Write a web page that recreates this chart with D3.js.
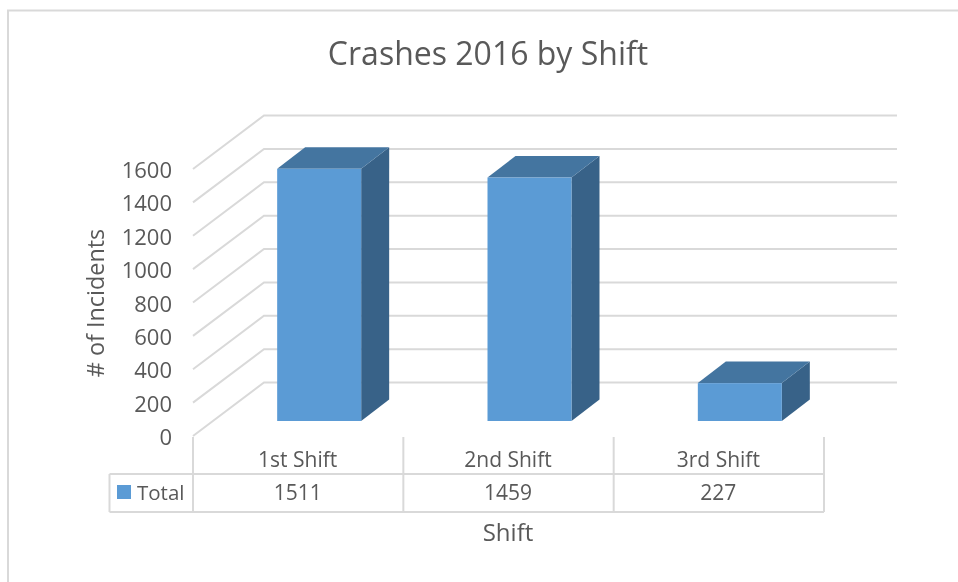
<!DOCTYPE html>
<html><head><meta charset="utf-8">
<script src="https://cdn.jsdelivr.net/npm/d3@7"></script>
<style>
html,body{margin:0;padding:0;background:#fff}
svg{display:block;filter:blur(0.35px)}
text{font-family:"Open Sans","Noto Sans",sans-serif;fill:#595959}
</style></head><body>
<svg id="c" width="958" height="582"></svg>
<script>
const categories = ["1st Shift", "2nd Shift", "3rd Shift"];
const totals = [1511, 1459, 227];
const seriesName = "Total";
const yTicks = [0, 200, 400, 600, 800, 1000, 1200, 1400, 1600];
const titleText = "Crashes 2016 by Shift";
const xTitle = "Shift";
const yTitle = "# of Incidents";

const grid = "#d9d9d9", front = "#5b9bd5", topC = "#4475a0", side = "#386288";
const svg = d3.select("#c");

// frame
svg.append("path").attr("d", "M8,582V10.5H958").attr("fill", "none").attr("stroke", grid).attr("stroke-width", 2);

// scales: y on front plane, band on table columns
const y = d3.scaleLinear().domain([0, 1600]).range([436, 169]);
const x = d3.scaleBand().domain(categories).range([193, 824]).paddingInner(0).paddingOuter(0);
const wallDx = 71, wallDy = -53.5;      // floor depth
const barShift = 21, barPlaneDy = -15; // where the bars' front sits within the depth
const barW = 84, barDx = 28, barDy = -21.5;

// gridlines
const gl = svg.append("g").attr("fill", "none").attr("stroke", grid).attr("stroke-width", 2);
yTicks.forEach(t => {
  gl.append("path").attr("d",
    `M${x.range()[0]},${y(t)}L${x.range()[0] + wallDx},${y(t) + wallDy}H897`);
});

// y axis
const yAxis = d3.axisLeft(y).tickValues(yTicks).tickSize(0).tickPadding(0).tickFormat(d3.format("d"));
const ya = svg.append("g").attr("transform", "translate(172,1.5)").call(yAxis);
ya.select(".domain").remove();
ya.selectAll("text").style("font-size", "22px").style("fill", "#595959").style("font-family", '"Open Sans","Noto Sans",sans-serif');

// bars
const bars = svg.append("g").selectAll("g").data(totals).join("g");
bars.each(function(v, i) {
  const g = d3.select(this);
  const bw = x.bandwidth();
  const xl = x(categories[i]) + (bw - barW) / 2 + barShift;
  const xr = xl + barW;
  const base = y(0) + barPlaneDy, t = y(v) + barPlaneDy;
  g.append("path").attr("fill", side).attr("d",
    `M${xr},${t}L${xr + barDx},${t + barDy}V${base + barDy}L${xr},${base}Z`);
  g.append("path").attr("fill", topC).attr("d",
    `M${xl},${t}L${xl + barDx},${t + barDy}H${xr + barDx}L${xr},${t}Z`);
  g.append("rect").attr("fill", front).attr("x", xl).attr("y", t).attr("width", barW).attr("height", base - t);
});

// data table
const tTop = 474, tBot = 512, tLeft = 109.5;
const tb = svg.append("g").attr("fill", "none").attr("stroke", grid).attr("stroke-width", 2);
tb.append("path").attr("d", `M${tLeft},${tTop}H824M${tLeft},${tBot}H824M${tLeft},${tTop}V${tBot}`);
[...categories.map(c => x(c)), x.range()[1]].forEach(px => {
  tb.append("path").attr("d", `M${px},437V${tBot}`);
});

const cell = svg.append("g").attr("text-anchor", "middle").style("font-size", "21px");
categories.forEach((c, i) => {
  const cx = x(c) + x.bandwidth() / 2 - 0.5;
  cell.append("text").attr("x", cx).attr("y", 467).text(c);
  cell.append("text").attr("x", cx).attr("y", 500).text(totals[i]);
});
svg.append("rect").attr("x", 117).attr("y", 485).attr("width", 14).attr("height", 14).attr("fill", front);
svg.append("text").attr("x", 137).attr("y", 500).style("font-size", "20.5px").text(seriesName);

// titles
svg.append("text").attr("x", 488).attr("y", 65).attr("text-anchor", "middle").style("font-size", "32px").text(titleText);
svg.append("text").attr("x", 508).attr("y", 541).attr("text-anchor", "middle").style("font-size", "24px").text(xTitle);
svg.append("text").attr("transform", "translate(104,303) rotate(-90)").attr("text-anchor", "middle").style("font-size", "23.4px").text(yTitle);
</script>
</body></html>
